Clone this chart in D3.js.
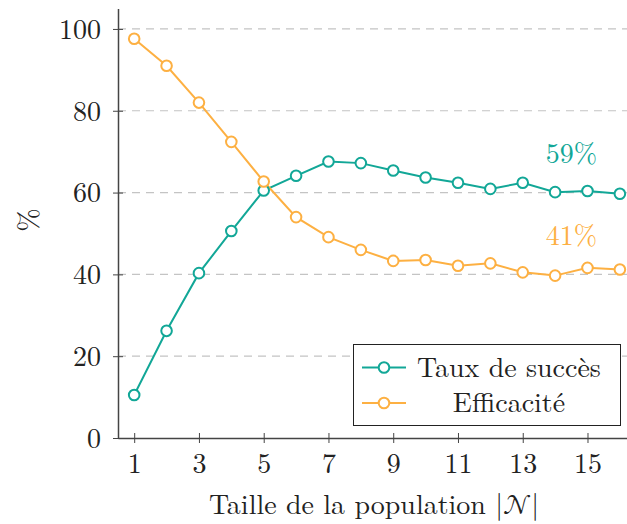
<!DOCTYPE html>
<html><head><meta charset="utf-8">
<script src="https://cdn.jsdelivr.net/npm/d3@7"></script>
<style>html,body{margin:0;padding:0;background:#fff;}</style>
</head>
<body><svg id="c" width="627" height="524"></svg>
<script>
const sizes = [1,2,3,4,5,6,7,8,9,10,11,12,13,14,15,16];
const succes = [10.5,26.2,40.3,50.6,60.5,64.1,67.6,67.2,65.4,63.7,62.4,60.9,62.4,60.1,60.4,59.7];
const efficacite = [97.6,91.0,82.0,72.4,62.7,54.0,49.1,46.0,43.3,43.5,42.1,42.7,40.5,39.7,41.6,41.2];
const xTicks = [1,3,5,7,9,11,13,15];
const yTicks = [0,20,40,60,80,100];
const seriesNames = ["Taux de succès","Efficacité"];
const annotations = ["59%","41%"];
const colors = ["#12a797","#fdb042"];
const FONT = '"Latin Modern Roman","CMU Serif","Liberation Serif",serif';
const MATHFONT = '"Latin Modern Math","STIX Two Math","Latin Modern Roman",serif';

const svg = d3.select("#c");
const x = d3.scaleLinear().domain([0.5,16.22]).range([118,627]);
const y = d3.scaleLinear().domain([0,105]).range([438,8.5]);
const fs = 28;

// grid
svg.append("g").selectAll("line").data(yTicks.filter(d=>d>0)).join("line")
  .attr("x1",118).attr("x2",627).attr("y1",d=>y(d)).attr("y2",d=>y(d))
  .attr("stroke","#c4c4c4").attr("stroke-width",1.2).attr("stroke-dasharray","8,6");

// axes
const xAxis = d3.axisBottom(x).tickValues(xTicks).tickSize(0).tickFormat(d3.format("d"));
const gx = svg.append("g").attr("transform","translate(0,438)").call(xAxis);
gx.select(".domain").attr("stroke","#444").attr("stroke-width",1.5);
gx.selectAll("text").attr("font-size",fs).attr("dy",null).attr("y",35).attr("fill","#222")
  .style("font-family",FONT);
gx.selectAll(".tick").append("line").attr("y1",-5).attr("y2",5).attr("stroke","#444").attr("stroke-width",1);

const yAxis = d3.axisLeft(y).tickValues(yTicks).tickSize(0).tickFormat(d3.format("d"));
const gy = svg.append("g").attr("transform","translate(118,0)").call(yAxis);
gy.select(".domain").attr("stroke","#444").attr("stroke-width",1.5);
gy.selectAll("text").attr("font-size",fs).attr("x",-17).attr("dy","0.33em").attr("fill","#222")
  .style("font-family",FONT);
gy.selectAll(".tick").append("line").attr("x1",-5).attr("x2",5).attr("stroke","#444").attr("stroke-width",1);

// lines
const data = [succes, efficacite];
const line = d3.line().x((d,i)=>x(sizes[i])).y(d=>y(d));
data.forEach((s,k)=>{
  svg.append("path").datum(s).attr("d",line).attr("fill","none")
    .attr("stroke",colors[k]).attr("stroke-width",2);
});
data.forEach((s,k)=>{
  svg.append("g").selectAll("circle").data(s).join("circle")
    .attr("cx",(d,i)=>x(sizes[i])).attr("cy",d=>y(d)).attr("r",5.3)
    .attr("fill","#fff").attr("stroke",colors[k]).attr("stroke-width",2);
});

// annotations
svg.append("text").attr("x",x(14.5)).attr("y",y(succes[14])-28).attr("text-anchor","middle")
  .attr("font-size",fs).style("font-family",FONT).style("fill",colors[0]).text(annotations[0]);
svg.append("text").attr("x",x(14.5)).attr("y",y(efficacite[14])-23).attr("text-anchor","middle")
  .attr("font-size",fs).style("font-family",FONT).style("fill",colors[1]).text(annotations[1]);

// legend
const lg = svg.append("g");
lg.append("rect").attr("x",353.5).attr("y",344.5).attr("width",267).attr("height",81)
  .attr("fill","#fff").attr("stroke","#222").attr("stroke-width",1);
seriesNames.forEach((n,k)=>{
  const yy = 367.5 + k*35.5;
  lg.append("line").attr("x1",362).attr("x2",406).attr("y1",yy).attr("y2",yy)
    .attr("stroke",colors[k]).attr("stroke-width",2);
  lg.append("circle").attr("cx",384).attr("cy",yy).attr("r",5.3).attr("fill","#fff")
    .attr("stroke",colors[k]).attr("stroke-width",2);
  lg.append("text").attr("x",509).attr("y",yy).attr("dy","0.33em").attr("text-anchor","middle")
    .attr("font-size",fs).style("font-family",FONT).attr("fill","#222").text(n);
});

// axis titles
const xt = svg.append("text").attr("x",374).attr("y",514).attr("text-anchor","middle").attr("font-size",fs)
  .style("font-family",FONT).attr("fill","#222");
xt.append("tspan").text("Taille de la population |");
xt.append("tspan").style("font-family",MATHFONT).text("𝒩");
xt.append("tspan").text("|");
svg.append("text").attr("transform","translate(38,220) rotate(-90)").attr("text-anchor","middle")
  .attr("font-size",fs).style("font-family",FONT).attr("fill","#222").text("%");
</script></body></html>
